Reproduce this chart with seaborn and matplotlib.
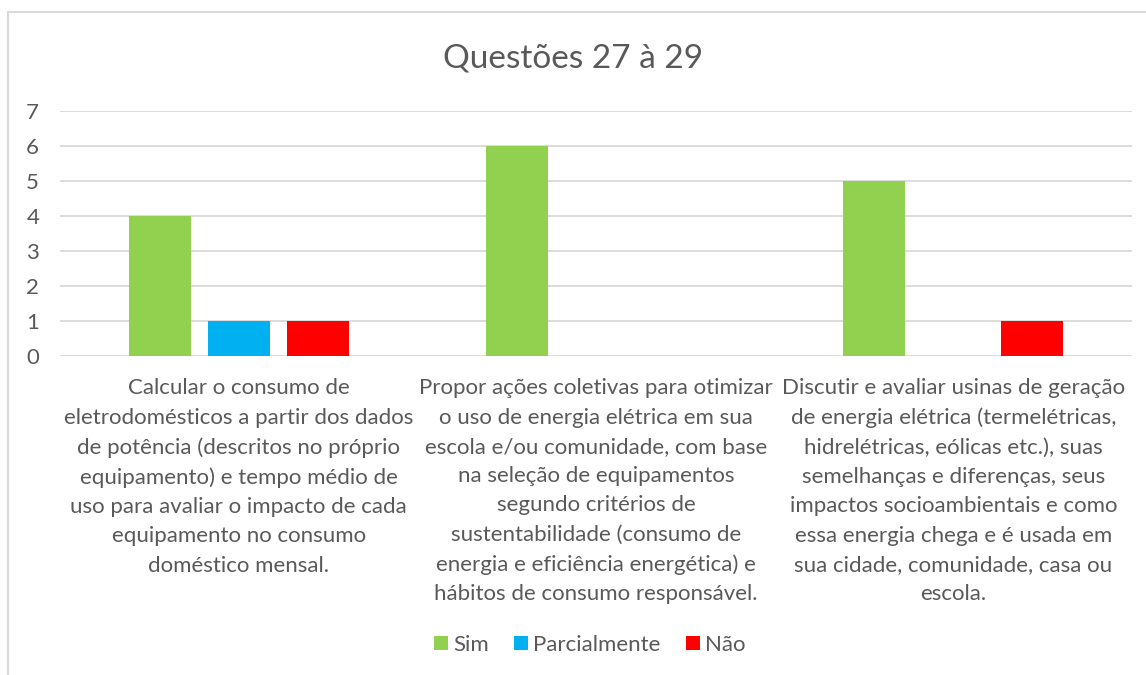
import numpy as np
import pandas as pd
import seaborn as sns
import matplotlib.pyplot as plt
from matplotlib.patches import Patch
from matplotlib.lines import Line2D

categories = [
    "Calcular o consumo de\neletrodomésticos a partir dos dados\nde potência (descritos no próprio\nequipamento) e tempo médio de\nuso para avaliar o impacto de cada\nequipamento no consumo\ndoméstico mensal.",
    "Propor ações coletivas para otimizar\no uso de energia elétrica em sua\nescola e/ou comunidade, com base\nna seleção de equipamentos\nsegundo critérios de\nsustentabilidade (consumo de\nenergia e eficiência energética) e\nhábitos de consumo responsável.",
    "Discutir e avaliar usinas de geração\nde energia elétrica (termelétricas,\nhidrelétricas, eólicas etc.), suas\nsemelhanças e diferenças, seus\nimpactos socioambientais e como\nessa energia chega e é usada em\nsua cidade, comunidade, casa ou\nescola.",
]
series = ["Sim", "Parcialmente", "Não"]
sim = [4, 6, 5]
parcialmente = [1, 0, 0]
nao = [1, 0, 1]
colors = ["#92D050", "#00B0F0", "#FF0000"]
yticks = [0, 1, 2, 3, 4, 5, 6, 7]
title = "Questões 27 à 29"

rows = []
for s, vals in zip(series, [sim, parcialmente, nao]):
    for c, v in zip(categories, vals):
        rows.append({"cat": c, "serie": s, "val": v})
df = pd.DataFrame(rows)

sns.set_theme(style="white")
plt.rcParams['font.family'] = ['Lato', 'DejaVu Sans']
TXT = "#595959"

W, H = 1146, 675
fig = plt.figure(figsize=(W / 100, H / 100), dpi=100)
ax = fig.add_axes([60 / W, 1 - 356 / H, (1132 - 60) / W, (356 - 111) / H])

sns.barplot(data=df, x="cat", y="val", hue="serie", hue_order=series,
            order=categories, palette=colors, saturation=1, width=0.664,
            gap=0.215, linewidth=0, ax=ax, legend=False)

ax.set_ylim(0, 7)
ax.set_yticks(yticks)
ax.set_xlim(-0.5, 2.5)
ax.yaxis.grid(True, color="#D9D9D9", lw=1.3)
ax.set_axisbelow(True)
for sp in ax.spines.values():
    sp.set_visible(False)
ax.set_xlabel("")
ax.set_ylabel("")
ax.tick_params(axis="y", length=0, pad=15, labelsize=16, labelcolor=TXT)
ax.tick_params(axis="x", length=0, pad=16, labelsize=16, labelcolor=TXT)
for lbl in ax.get_xticklabels():
    lbl.set_multialignment("center")
    lbl.set_linespacing(1.58)

fig.text(0.5, 1 - 58 / H, title, ha="center", va="center", fontsize=24, color=TXT)

handles = [Patch(facecolor=c, edgecolor="none") for c in colors]
fig.legend(handles, series, loc="center", bbox_to_anchor=(590 / W, 1 - 645 / H),
           ncol=3, frameon=False, handlelength=0.6, handleheight=0.6,
           handletextpad=0.25, columnspacing=1.15, fontsize=16, labelcolor=TXT)

fig.add_artist(Line2D([8 / W, 8 / W], [0, 1 - 12 / H], transform=fig.transFigure,
                      color="#D9D9D9", lw=1.5))
fig.add_artist(Line2D([8 / W, 1], [1 - 12 / H, 1 - 12 / H], transform=fig.transFigure,
                      color="#D9D9D9", lw=1.5))

fig.savefig("out.png", dpi=100, facecolor="white")
